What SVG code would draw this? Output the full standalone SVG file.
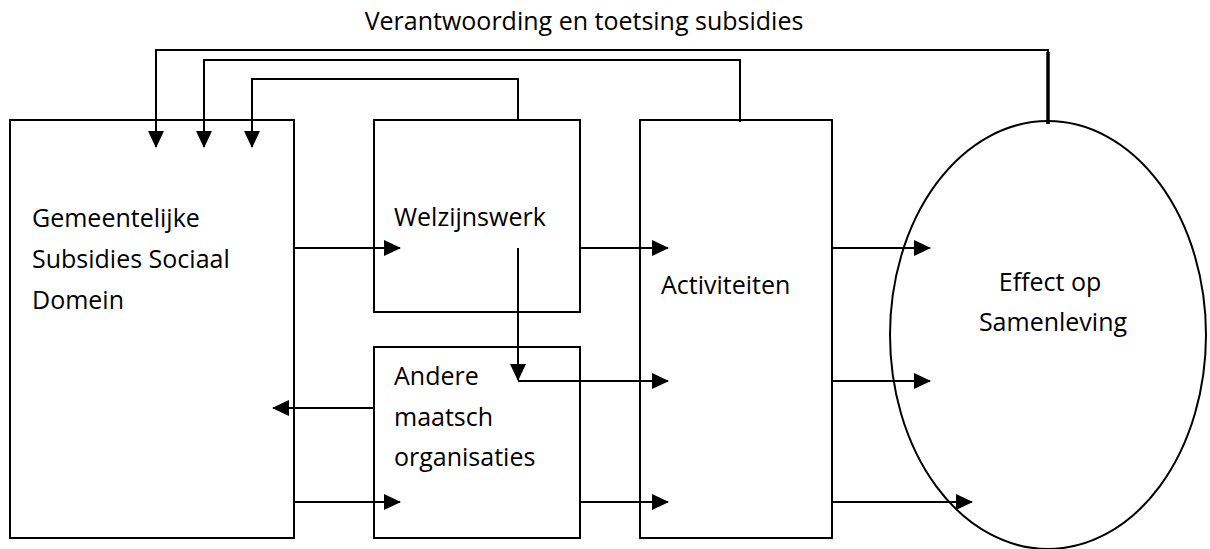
<svg xmlns="http://www.w3.org/2000/svg" width="1210" height="549" viewBox="0 0 1210 549">
<style>
.box{fill:#fff;stroke:#000;stroke-width:2}
.ln{fill:none;stroke:#000;stroke-width:2}
.t{font-family:"Open Sans","Liberation Sans",sans-serif;font-size:25px;fill:#000}
</style>
<defs>
<marker id="ah" markerUnits="userSpaceOnUse" markerWidth="17" markerHeight="16" refX="16" refY="8" orient="auto">
<path d="M0,0 L17,8 L0,16 z" fill="#000"/>
</marker>
</defs>
<rect width="1210" height="549" fill="#fff"/>
<text class="t" x="584" y="30" text-anchor="middle">Verantwoording en toetsing subsidies</text>
<g id="gemeente">
<rect class="box" x="10" y="120" width="284" height="418"/>
<text class="t" x="32" y="227">Gemeentelijke</text>
<text class="t" x="32" y="268">Subsidies Sociaal</text>
<text class="t" x="32" y="309">Domein</text>
</g>
<g id="welzijnswerk">
<rect class="box" x="374" y="120" width="206" height="192"/>
<text class="t" x="394" y="226">Welzijnswerk</text>
</g>
<g id="andere">
<rect class="box" x="374" y="347" width="206" height="191"/>
<text class="t" x="394" y="385">Andere</text>
<text class="t" x="394" y="426">maatsch</text>
<text class="t" x="394" y="466">organisaties</text>
</g>
<g id="activiteiten">
<rect class="box" x="640" y="120" width="192" height="418"/>
<text class="t" x="661" y="294">Activiteiten</text>
</g>
<g id="effect">
<ellipse class="box" cx="1048" cy="335" rx="158" ry="214"/>
<text class="t" x="1050" y="291" text-anchor="middle">Effect op</text>
<text class="t" x="1053" y="331" text-anchor="middle">Samenleving</text>
</g>
<g id="connectors">
<path class="ln" d="M1048,122 V50 H156 V147" marker-end="url(#ah)"/>
<line x1="1048" y1="52" x2="1048" y2="124" stroke="#000" stroke-width="3.5"/>
<path class="ln" d="M740,122 V60 H204 V147" marker-end="url(#ah)"/>
<path class="ln" d="M518,120 V79 H252 V147" marker-end="url(#ah)"/>
<line class="ln" x1="294" y1="248" x2="400" y2="248" marker-end="url(#ah)"/>
<line class="ln" x1="580" y1="248" x2="668" y2="248" marker-end="url(#ah)"/>
<line class="ln" x1="832" y1="248" x2="930" y2="248" marker-end="url(#ah)"/>
<line class="ln" x1="518" y1="248" x2="518" y2="380" marker-end="url(#ah)"/>
<line class="ln" x1="518" y1="381" x2="668" y2="381" marker-end="url(#ah)"/>
<line class="ln" x1="832" y1="381" x2="930" y2="381" marker-end="url(#ah)"/>
<line class="ln" x1="374" y1="408" x2="273" y2="408" marker-end="url(#ah)"/>
<line class="ln" x1="294" y1="502" x2="400" y2="502" marker-end="url(#ah)"/>
<line class="ln" x1="580" y1="502" x2="668" y2="502" marker-end="url(#ah)"/>
<line class="ln" x1="832" y1="502" x2="972" y2="502" marker-end="url(#ah)"/>
</g>
</svg>
